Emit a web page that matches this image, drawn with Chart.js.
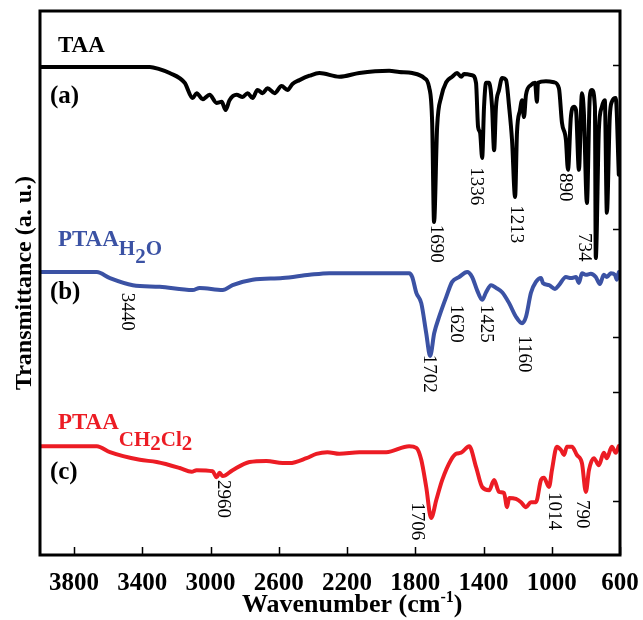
<!DOCTYPE html>
<html>
<head>
<meta charset="utf-8">
<script src="https://cdn.jsdelivr.net/npm/chart.js@4.4.0/dist/chart.umd.min.js"></script>
<style>
  html, body { margin: 0; padding: 0; background: #fff; }
  #wrap { width: 643px; height: 620px; }
</style>
</head>
<body>
<div id="wrap"><canvas id="ftirChart" width="643" height="620"></canvas></div>
<script>
// --- Data (wavenumber in cm-1, transmittance in a.u., spectra offset) ---
const xTicks = [3800, 3400, 3000, 2600, 2200, 1800, 1400, 1000, 600];
const rightTicks = [10, 30, 40, 60, 90];

// (a) TAA
const taaWn = [4000, 3356, 3300, 3240, 3152, 3105, 3082, 3046, 3006, 2965, 2935, 2912, 2889, 2848, 2812, 2783, 2754, 2725, 2695, 2666, 2625, 2584, 2549, 2520, 2479, 2420, 2362, 2245, 2128, 1953, 1894, 1818, 1748, 1719, 1701, 1690, 1672, 1648, 1619, 1584, 1555, 1531, 1514, 1467, 1444, 1432, 1420, 1408, 1397, 1385, 1367, 1350, 1338, 1327, 1309, 1291, 1268, 1250, 1233, 1215, 1204, 1186, 1174, 1163, 1151, 1122, 1098, 1087, 1081, 1034, 987, 958, 940, 917, 905, 888, 870, 858, 841, 823, 812, 794, 777, 765, 747, 742, 724, 706, 689, 677, 660, 648, 625, 607];
const taaT = [89.7, 89.7, 89.3, 88.6, 86.8, 84.0, 84.9, 83.8, 84.6, 83.1, 83.3, 81.8, 83.6, 84.6, 84.2, 84.9, 84.0, 85.5, 84.9, 85.8, 84.9, 86.2, 85.5, 86.6, 87.3, 88.1, 88.6, 87.9, 88.6, 89.0, 88.8, 88.6, 87.7, 86.0, 79.4, 61.2, 78.7, 84.2, 86.9, 87.9, 88.6, 87.9, 88.4, 88.2, 86.8, 78.7, 77.6, 73.0, 82.4, 86.8, 86.8, 82.4, 74.4, 82.4, 85.5, 87.7, 87.3, 82.4, 76.3, 65.8, 77.6, 81.8, 83.6, 80.5, 84.6, 86.4, 86.8, 83.3, 86.8, 87.1, 86.9, 85.8, 79.4, 76.3, 70.8, 80.5, 82.4, 81.8, 70.8, 84.9, 81.4, 64.7, 84.2, 85.5, 82.4, 54.6, 78.1, 82.4, 83.6, 62.9, 80.5, 83.3, 84.0, 69.9];

// (b) PTAA H2O
const h2oWn = [4000, 3667, 3590, 3456, 3298, 3105, 3064, 2929, 2871, 2754, 2578, 2420, 2303, 2169, 1836, 1818, 1794, 1765, 1736, 1713, 1689, 1660, 1619, 1584, 1543, 1496, 1467, 1438, 1408, 1385, 1356, 1327, 1291, 1250, 1210, 1174, 1151, 1122, 1093, 1063, 1052, 1016, 981, 958, 917, 888, 858, 841, 823, 800, 771, 742, 718, 695, 677, 654, 630, 618, 607];
const h2oT = [52.0, 52.0, 50.9, 49.6, 49.3, 48.7, 49.1, 48.7, 49.6, 50.6, 50.9, 51.5, 51.8, 51.8, 51.8, 51.1, 48.2, 46.3, 40.8, 36.6, 40.8, 43.8, 47.4, 50.2, 51.1, 52.0, 51.1, 48.7, 46.9, 48.3, 49.6, 49.1, 48.3, 46.3, 43.8, 42.6, 43.8, 48.2, 50.2, 50.9, 50.0, 49.6, 48.9, 49.6, 51.1, 50.9, 51.1, 50.0, 51.8, 51.5, 51.7, 51.1, 49.8, 51.5, 51.1, 51.8, 51.5, 50.6, 52.0];

// (c) PTAA CH2Cl2
const ch2cl2Wn = [4000, 3667, 3590, 3415, 3316, 3181, 3111, 3082, 2988, 2965, 2947, 2929, 2871, 2772, 2672, 2578, 2537, 2438, 2380, 2315, 2245, 2128, 1970, 1836, 1794, 1765, 1736, 1707, 1677, 1642, 1590, 1561, 1531, 1484, 1444, 1408, 1367, 1338, 1309, 1280, 1262, 1250, 1210, 1180, 1151, 1122, 1093, 1063, 1046, 1016, 999, 970, 946, 928, 911, 882, 853, 823, 800, 782, 753, 724, 695, 677, 648, 625, 607];
const ch2cl2T = [20.0, 20.0, 18.9, 17.5, 17.1, 16.0, 15.3, 15.6, 15.4, 14.3, 15.1, 14.5, 15.6, 17.1, 17.3, 16.9, 16.9, 17.8, 18.6, 18.9, 18.6, 18.9, 18.9, 20.0, 19.7, 17.5, 12.5, 6.8, 10.1, 13.8, 17.5, 18.6, 18.8, 20.0, 16.2, 12.5, 11.9, 13.8, 11.6, 11.4, 8.8, 10.5, 10.3, 9.7, 8.8, 9.7, 9.7, 13.8, 14.2, 12.5, 15.6, 19.9, 19.3, 18.4, 19.9, 19.9, 18.4, 16.9, 11.6, 15.6, 17.8, 16.5, 18.8, 17.8, 19.9, 18.8, 20.0];

// Peak labels (text start point)
const peakText = ['1690', '1336', '1213', '890', '734', '3440', '1702', '1620', '1425', '1160', '2960', '1706', '1014', '790'];
const peakWn = [1677, 1443, 1210, 923, 812, 3491, 1718, 1561, 1385, 1163, 2929, 1789, 987, 823];
const peakT = [60.7, 71.3, 64.3, 70.2, 59.2, 48.2, 36.8, 46.0, 46.0, 40.4, 13.8, 9.7, 11.6, 10.1];

const BLACK = '#000000';
const BLUE = '#3b52a4';
const RED = '#ec1c24';
const SERIF = "'Liberation Serif', 'Times New Roman', serif";

const toPoints = (xs, ys) => xs.map((w, i) => ({ x: w, y: ys[i] }));

function spectrum(label, xs, ys, color) {
    return {
        label: label,
        data: toPoints(xs, ys),
        borderColor: color,
        backgroundColor: color,
        borderWidth: 4,
        pointRadius: 0,
        cubicInterpolationMode: 'monotone',
        borderJoinStyle: 'round',
        borderCapStyle: 'round',
        fill: false
    };
}

// draws a main label with a subscript part (pieces: [text, size, dy])
function drawPieces(ctx, x, y, pieces, color) {
    ctx.fillStyle = color;
    ctx.textAlign = 'left';
    ctx.textBaseline = 'alphabetic';
    let cx = x;
    pieces.forEach(([t, size, dy]) => {
        ctx.font = 'bold ' + size + 'px ' + SERIF;
        ctx.fillText(t, cx, y + dy);
        cx += ctx.measureText(t).width;
    });
}

const decorPlugin = {
    id: 'decor',
    afterDatasetsDraw(chart) {
        const { ctx, chartArea: a, scales } = chart;
        const x = scales.x, y = scales.y;
        ctx.save();

        // frame
        ctx.strokeStyle = '#000';
        ctx.lineWidth = 3;
        ctx.strokeRect(a.left, a.top, a.right - a.left, a.bottom - a.top);

        // inward tick marks
        ctx.lineWidth = 1.5;
        ctx.beginPath();
        xTicks.forEach(v => {
            const px = Math.round(x.getPixelForValue(v)) + 0.5;
            ctx.moveTo(px, a.bottom);
            ctx.lineTo(px, a.bottom - 8);
        });
        rightTicks.forEach(v => {
            const py = Math.round(y.getPixelForValue(v)) + 0.5;
            ctx.moveTo(a.right, py);
            ctx.lineTo(a.right - 7, py);
        });
        ctx.stroke();

        // peak labels, rotated to read downwards
        ctx.fillStyle = '#000';
        ctx.font = '19px ' + SERIF;
        ctx.textAlign = 'left';
        ctx.textBaseline = 'middle';
        peakText.forEach((t, i) => {
            ctx.save();
            ctx.translate(x.getPixelForValue(peakWn[i]), y.getPixelForValue(peakT[i]));
            ctx.rotate(Math.PI / 2);
            ctx.fillText(t, 0, 0);
            ctx.restore();
        });

        // spectrum names
        const lx = x.getPixelForValue(3895);
        drawPieces(ctx, lx, y.getPixelForValue(92.5), [['TAA', 23, 0]], BLACK);
        drawPieces(ctx, lx, y.getPixelForValue(56.8), [['PTAA', 23, 0], ['H', 21, 9], ['2', 21, 17], ['O', 21, 9]], BLUE);
        drawPieces(ctx, lx, y.getPixelForValue(23.2), [['PTAA', 23, 0], ['CH', 21, 17], ['2', 21, 21], ['Cl', 21, 17], ['2', 21, 21]], RED);

        ctx.fillStyle = '#000';
        ctx.font = 'bold 25px ' + SERIF;
        ctx.textBaseline = 'middle';
        const px = x.getPixelForValue(3942);
        ctx.fillText('(a)', px, y.getPixelForValue(84.2));
        ctx.fillText('(b)', px, y.getPixelForValue(48.2));
        ctx.fillText('(c)', px, y.getPixelForValue(15.1));

        // x axis title with superscript
        ctx.textBaseline = 'alphabetic';
        ctx.font = 'bold 26px ' + SERIF;
        const main = 'Wavenumber (cm';
        const wMain = ctx.measureText(main).width;
        ctx.font = 'bold 16px ' + SERIF;
        const wSup = ctx.measureText('-1').width;
        ctx.font = 'bold 26px ' + SERIF;
        const wEnd = ctx.measureText(')').width;
        let tx = x.getPixelForValue(2170) - (wMain + wSup + wEnd) / 2;
        const ty = a.bottom + 57;
        ctx.fillText(main, tx, ty);
        tx += wMain;
        ctx.font = 'bold 16px ' + SERIF;
        ctx.fillText('-1', tx, ty - 10);
        tx += wSup;
        ctx.font = 'bold 26px ' + SERIF;
        ctx.fillText(')', tx, ty);

        ctx.restore();
    }
};

const ctx = document.getElementById('ftirChart').getContext('2d');
const ftirChart = new Chart(ctx, {
    type: 'line',
    data: {
        datasets: [
            spectrum('TAA', taaWn, taaT, BLACK),
            spectrum('PTAA H2O', h2oWn, h2oT, BLUE),
            spectrum('PTAA CH2Cl2', ch2cl2Wn, ch2cl2T, RED)
        ]
    },
    options: {
        responsive: false,
        animation: false,
        layout: { padding: { top: 11, left: 0, right: 0, bottom: 0 } },
        plugins: {
            legend: { display: false },
            tooltip: { enabled: false }
        },
        scales: {
            x: {
                type: 'linear',
                reverse: true,
                min: 600,
                max: 4000,
                afterBuildTicks: s => { s.ticks = xTicks.map(v => ({ value: v })); },
                afterFit: s => {
                    s.height = 65;
                    s.paddingLeft = 0;
                    s.paddingRight = 0;
                },
                grid: { display: false, drawTicks: false },
                border: { display: false },
                ticks: {
                    autoSkip: false,
                    maxRotation: 0,
                    padding: 14,
                    color: '#000',
                    font: { family: SERIF, size: 25, weight: 'bold' },
                    callback: v => String(v)
                }
            },
            y: {
                type: 'linear',
                position: 'left',
                min: 0,
                max: 100,
                afterFit: s => { s.width = 40; },
                grid: { display: false, drawTicks: false },
                border: { display: false },
                ticks: { display: false },
                title: {
                    display: true,
                    text: 'Transmittance (a. u.)',
                    color: '#000',
                    padding: { top: 10, bottom: 0 },
                    font: { family: SERIF, size: 24, weight: 'bold' }
                }
            },
            y2: {
                type: 'linear',
                position: 'right',
                min: 0,
                max: 100,
                afterFit: s => { s.width = 23; },
                grid: { display: false, drawTicks: false },
                border: { display: false },
                ticks: { display: false }
            }
        }
    },
    plugins: [decorPlugin]
});
</script>
</body>
</html>
